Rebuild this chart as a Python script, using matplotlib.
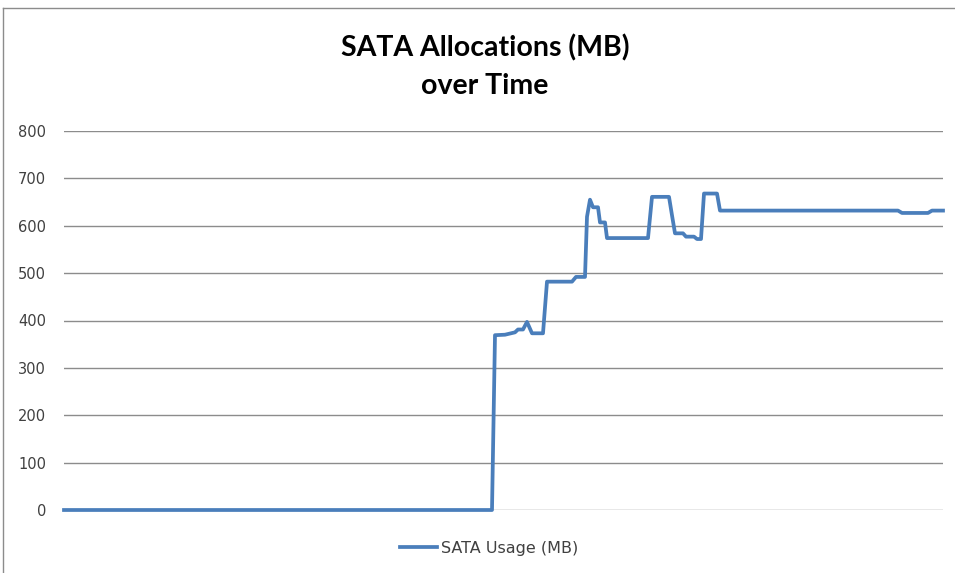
import matplotlib
matplotlib.use("Agg")
import matplotlib.pyplot as plt
from matplotlib.lines import Line2D

# Time (sample index) and SATA usage (MB) at each change point of the series
time = [0, 428, 431, 441, 451, 454, 459, 463, 468, 479, 483, 508, 512, 521,
        523, 526, 529, 534, 536, 541, 543, 584, 588, 605, 608, 611, 619, 622,
        630, 633, 637, 640, 653, 656, 834, 838, 864, 868, 879]
usage = [0, 0, 369, 370, 375, 381, 381, 397, 373, 373, 482, 482, 492, 492,
         619, 655, 639, 639, 607, 607, 574, 574, 661, 661, 622, 584, 584, 577,
         577, 572, 572, 668, 668, 632, 632, 627, 627, 632, 632]

y_ticks = [0, 100, 200, 300, 400, 500, 600, 700, 800]
title = "SATA Allocations (MB)\nover Time"
series_name = "SATA Usage (MB)"

fig = plt.figure(figsize=(9.55, 5.73), dpi=100)
ax = fig.add_axes([64 / 955, 1 - 510 / 573, (943 - 64) / 955, (510 - 131) / 573])

ax.plot(time, usage, color="#4A7EBB", linewidth=2.7, solid_joinstyle="round",
        label=series_name, zorder=3, clip_on=False)

ax.set_xlim(time[0], time[-1])
ax.set_ylim(0, 800)
ax.set_yticks(y_ticks)
ax.set_yticklabels([str(v) for v in y_ticks], fontsize=10.5, color="#404040",
                   family="DejaVu Sans")
ax.tick_params(axis="y", length=0, pad=13)
ax.set_xticks([])
ax.grid(axis="y", color="#8C8C8C", linewidth=1)
for s in ax.spines.values():
    s.set_visible(False)

fig.text(485 / 955, 1 - 67 / 573, title, ha="center", va="center",
         fontsize=20.5, fontweight="bold", family="Lato", linespacing=1.55,
         color="#000000")

leg = fig.legend(handles=[Line2D([], [], color="#4A7EBB", linewidth=2.7)],
                 labels=[series_name], loc="center",
                 bbox_to_anchor=(489 / 955, 1 - 548 / 573), frameon=False,
                 fontsize=11.5, handlelength=2.3, handletextpad=0.25)
for t in leg.get_texts():
    t.set_color("#404040")

# outer chart border (left and top edges visible)
fig.add_artist(Line2D([3 / 955, 3 / 955], [0, 1 - 8 / 573], color="#8C8C8C",
                      linewidth=1, transform=fig.transFigure))
fig.add_artist(Line2D([3 / 955, 1], [1 - 8 / 573, 1 - 8 / 573], color="#8C8C8C",
                      linewidth=1, transform=fig.transFigure))

fig.savefig("out.png", dpi=100)
